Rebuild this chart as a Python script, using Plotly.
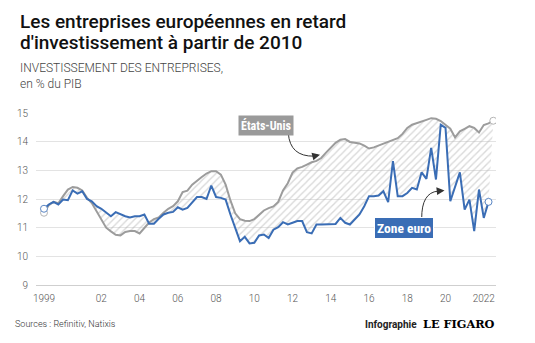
import plotly.graph_objects as go

# Business investment, % of GDP, quarterly from 1999 Q1
zone_euro = [
    11.66, 11.81, 11.90, 11.81, 11.98, 11.96, 12.30, 12.19, 12.27, 12.00,
    11.92, 11.75, 11.66, 11.52, 11.40, 11.54, 11.46, 11.40, 11.36, 11.40,
    11.40, 11.46, 11.14, 11.14, 11.31, 11.46, 11.52, 11.55, 11.71, 11.63,
    11.69, 11.89, 12.07, 12.07, 12.00, 12.47, 12.07, 12.04, 11.98, 11.46,
    10.99, 10.53, 10.68, 10.45, 10.47, 10.73, 10.76, 10.64, 10.93, 11.02,
    11.19, 11.11, 11.17, 11.23, 11.23, 10.84, 10.80, 11.11, 11.11, 11.11,
    11.11, 11.13, 11.34, 11.17, 11.11, 11.28, 11.46, 11.75, 12.10, 12.10,
    12.12, 12.27, 11.89, 13.32, 12.10, 12.10, 12.21, 12.39, 12.33, 12.93,
    12.70, 13.78, 12.68, 14.59, 14.48, 11.92, 12.44, 12.93, 11.63, 11.98,
    10.88, 12.33, 11.34, 11.90,
]
etats_unis = [
    11.52, 11.78, 11.90, 11.85, 12.10, 12.33, 12.42, 12.39, 12.30, 12.04,
    11.86, 11.58, 11.25, 11.00, 10.87, 10.75, 10.73, 10.85, 10.88, 10.88,
    10.80, 11.00, 11.18, 11.30, 11.36, 11.52, 11.66, 11.75, 11.92, 12.24,
    12.29, 12.50, 12.65, 12.77, 12.89, 12.97, 12.97, 12.85, 12.50, 11.95,
    11.50, 11.30, 11.24, 11.23, 11.30, 11.45, 11.60, 11.68, 11.74, 11.90,
    12.30, 12.55, 12.92, 13.07, 13.12, 13.20, 13.28, 13.33, 13.43, 13.62,
    13.80, 13.96, 14.07, 14.09, 13.99, 13.97, 13.94, 13.86, 13.76, 13.80,
    13.86, 13.92, 14.00, 14.06, 14.12, 14.27, 14.48, 14.59, 14.64, 14.70,
    14.76, 14.82, 14.80, 14.72, 14.58, 14.45, 14.15, 14.36, 14.45, 14.54,
    14.48, 14.32, 14.58, 14.64, 14.73,
]
tick_years = [1999, 2002, 2004, 2006, 2008, 2010, 2012, 2014, 2016, 2018, 2020, 2022]
tick_labels = ["1999", "02", "04", "06", "08", "10", "12", "14", "16", "18", "20", "2022"]
y_ticks = [9, 10, 11, 12, 13, 14, 15]

t_eu = [1999 + i / 4 for i in range(len(zone_euro))]
t_us = [1999 + i / 4 for i in range(len(etats_unis))]

BLUE = "#3a6db5"
GREY = "#9c9c9c"

W, H = 535, 343
L, R, T, B = 36, 39, 113.3, 57.5
PW, PH = W - L - R, H - T - B
X0, X1 = 1998.582, 2022.640


def px(p):
    return (p - L) / PW


def py(p):
    return (H - B - p) / PH


def dx(p):
    return X0 + (p - L) / PW * (X1 - X0)


def dy(p):
    return 9 + (H - B - p) / PH * 6


fig = go.Figure()

# hatched band between the two series
fig.add_trace(go.Scatter(x=t_eu, y=zone_euro, mode="lines",
                         line=dict(width=0, color=BLUE), hoverinfo="skip",
                         showlegend=False))
fig.add_trace(go.Scatter(x=t_us, y=etats_unis, mode="lines", fill="tonexty",
                         fillcolor="rgba(255,255,255,0)",
                         fillpattern=dict(shape="/", fgcolor="#b4b4b4",
                                          bgcolor="rgba(255,255,255,0)",
                                          size=5, solidity=0.28),
                         line=dict(width=2, color=GREY), showlegend=False))
fig.add_trace(go.Scatter(x=t_eu, y=zone_euro, mode="lines",
                         line=dict(width=2, color=BLUE), showlegend=False))

# hollow end markers
fig.add_trace(go.Scatter(x=[t_us[0], t_us[-1]], y=[etats_unis[0], etats_unis[-1]],
                         mode="markers", showlegend=False,
                         marker=dict(size=7, color="white",
                                     line=dict(width=1, color="#b5b5b5"))))
fig.add_trace(go.Scatter(x=[t_eu[0], t_eu[-1]], y=[zone_euro[0], zone_euro[-1]],
                         mode="markers", showlegend=False,
                         marker=dict(size=7, color="white",
                                     line=dict(width=1, color="#5a86c4"))))

# curved pointers from the labels to the lines
curves = [
    ((288.3, 133.5), (290.0, 157.0), (314.0, 156.5), (320.0, 155.0)),
    ((421.7, 219.0), (421.5, 193.0), (438.0, 191.5), (444.5, 190.8)),
]
for (sx, sy), (cx, cy), (ex, ey), (hx, hy) in curves:
    fig.add_shape(type="path", xref="x", yref="y",
                  path=f"M {dx(sx)},{dy(sy)} Q {dx(cx)},{dy(cy)} {dx(ex)},{dy(ey)}",
                  line=dict(color="#333333", width=1))
    fig.add_annotation(x=dx(hx), y=dy(hy), ax=dx(ex), ay=dy(ey),
                       xref="x", yref="y", axref="x", ayref="y",
                       showarrow=True, arrowhead=2, arrowsize=1.3,
                       arrowwidth=1.2, arrowcolor="#333333", text="")

NARROW = "Liberation Sans Narrow, Roboto Condensed, Arial Narrow, sans-serif"
fig.add_annotation(x=px(265.5), y=py(125.7), xref="paper", yref="paper",
                   text="<b>États-Unis</b>", showarrow=False,
                   font=dict(family=NARROW, size=12, color="white"),
                   bgcolor="#9a9a9a", borderpad=2,
                   xanchor="center", yanchor="middle")
fig.add_annotation(x=px(404), y=py(228.3), xref="paper", yref="paper",
                   text="<b>Zone euro</b>", showarrow=False,
                   font=dict(family=NARROW, size=13.5, color="white"),
                   bgcolor=BLUE, borderpad=2, bordercolor="white", borderwidth=1,
                   xanchor="center", yanchor="middle")

# title block
for text, yc in [("Les entreprises européennes en retard", 22),
                 ("d'investissement à partir de 2010", 43)]:
    fig.add_annotation(x=px(18), y=py(yc), xref="paper", yref="paper",
                       text=text, showarrow=False, xanchor="left", yanchor="middle",
                       font=dict(family="Roboto", size=19, weight=500, color="#111111"))
fig.add_annotation(x=px(18), y=py(76.5), xref="paper", yref="paper",
                   text="INVESTISSEMENT DES ENTREPRISES,<br>en % du PIB",
                   showarrow=False, xanchor="left", yanchor="middle", align="left",
                   font=dict(family="Roboto", size=12, weight=300, color="#444444"))

# footer
fig.add_annotation(x=px(13), y=py(325), xref="paper", yref="paper",
                   text="Sources : Refinitiv, Natixis", showarrow=False,
                   xanchor="left", yanchor="middle",
                   font=dict(family="Roboto", size=9, weight=300, color="#333333"))
fig.add_annotation(x=px(418.5), y=py(325), xref="paper", yref="paper",
                   text="<b>Infographie</b>", showarrow=False,
                   xanchor="right", yanchor="middle",
                   font=dict(family="Roboto", size=10, color="#222222"))
fig.add_annotation(x=px(420.5), y=py(324.5), xref="paper", yref="paper",
                   text="<b>LE FIGARO</b>", showarrow=False,
                   xanchor="left", yanchor="middle",
                   font=dict(family="DejaVu Serif", size=11.3, color="#000000"))

fig.update_layout(
    width=W, height=H,
    margin=dict(l=L, r=R, t=T, b=B, pad=0),
    paper_bgcolor="white", plot_bgcolor="white",
    showlegend=False,
    xaxis=dict(range=[X0, X1], tickmode="array", tickvals=tick_years,
               ticktext=tick_labels, showgrid=False, zeroline=False,
               showline=True, linecolor="#cfcfcf", linewidth=1,
               ticks="outside", ticklen=4, tickcolor="rgba(0,0,0,0)",
               tickfont=dict(family="Roboto", size=10, weight=300, color="#555555")),
    yaxis=dict(range=[9, 15], tickmode="array", tickvals=y_ticks,
               showgrid=True, gridcolor="#e3e3e3", gridwidth=1, zeroline=False,
               showline=False,
               ticks="outside", ticklen=5, tickcolor="rgba(0,0,0,0)",
               tickfont=dict(family="Roboto", size=10, weight=300, color="#555555")),
)

fig.write_html("out.html")
